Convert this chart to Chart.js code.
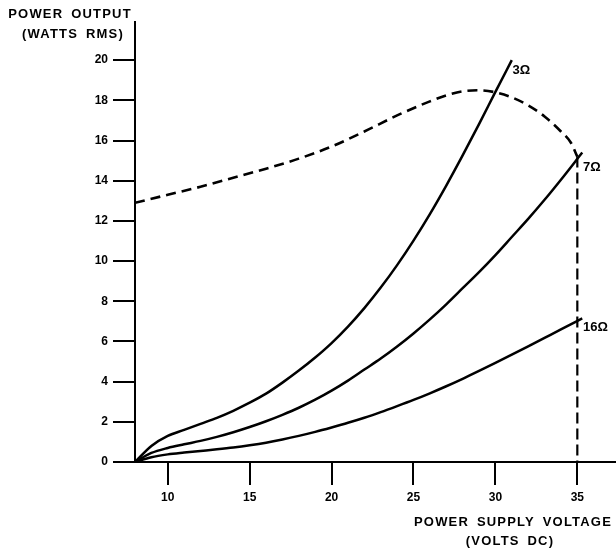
<!DOCTYPE html>
<html><head><meta charset="utf-8">
<script src="https://cdn.jsdelivr.net/npm/chart.js@4"></script>
<style>html,body{margin:0;padding:0;background:#fff;overflow:hidden}canvas{display:block}</style>
</head><body>
<canvas id="c" width="616" height="549"></canvas>
<script>
// ---- data ----
const voltage3  = [8, 9, 10, 11, 12, 13, 14, 15, 16, 17, 18, 19, 20, 21, 22, 23, 24, 25, 26, 27, 28, 29, 30, 31];
const power3    = [0, 0.8, 1.3, 1.6, 1.9, 2.2, 2.55, 2.95, 3.4, 3.95, 4.55, 5.2, 5.92, 6.74, 7.66, 8.68, 9.8, 11.02, 12.34, 13.76, 15.26, 16.82, 18.42, 20.0];
const voltage7  = [8, 9, 10, 11, 12, 13, 14, 15, 16, 17, 18, 19, 20, 21, 22, 23, 24, 25, 26, 27, 28, 29, 30, 31, 32, 33, 34, 35.3];
const power7    = [0, 0.45, 0.7, 0.88, 1.05, 1.25, 1.48, 1.74, 2.03, 2.35, 2.7, 3.1, 3.55, 4.05, 4.6, 5.15, 5.75, 6.4, 7.1, 7.85, 8.65, 9.45, 10.3, 11.2, 12.1, 13.05, 14.05, 15.4];
const voltage16 = [8, 9, 10, 11, 12, 13, 14, 15, 16, 17, 18, 19, 20, 21, 22, 23, 24, 25, 26, 27, 28, 29, 30, 31, 32, 33, 34, 35.3];
const power16   = [0, 0.24, 0.38, 0.47, 0.55, 0.63, 0.72, 0.83, 0.96, 1.12, 1.3, 1.5, 1.72, 1.95, 2.2, 2.48, 2.78, 3.09, 3.42, 3.77, 4.14, 4.53, 4.93, 5.34, 5.76, 6.18, 6.6, 7.15];
const voltageMax = [8, 10, 12, 14, 16, 18, 20, 22, 24, 26, 27, 28, 29, 30, 31, 32, 33, 34, 34.6, 35.0];
const powerMax   = [12.9, 13.3, 13.7, 14.15, 14.6, 15.1, 15.7, 16.45, 17.25, 17.95, 18.25, 18.45, 18.5, 18.4, 18.15, 17.75, 17.2, 16.45, 15.9, 15.2];
const voltageDrop = [35, 35];
const powerDrop   = [15.2, 0];

const xTicks = [10, 15, 20, 25, 30, 35];
const yTicks = [0, 2, 4, 6, 8, 10, 12, 14, 16, 18, 20];
const curveLabels = ['3Ω', '7Ω', '16Ω'];
const labelVoltage = [31.05, 35.35, 35.35];
const labelPower   = [19.5, 14.65, 6.7];
const yTitle = ['POWER OUTPUT', '(WATTS RMS)'];
const xTitle = ['POWER SUPPLY VOLTAGE', '(VOLTS DC)'];

const pts = (xs, ys) => xs.map((x, i) => ({x: x, y: ys[i]}));
const FONT = '"Liberation Sans", Arial, sans-serif';

const solid = (d) => ({data: d, borderColor: '#000', borderWidth: 2.5, pointRadius: 0,
  cubicInterpolationMode: 'monotone', fill: false});

const textPlugin = {
  id: 'texts',
  afterDraw(chart) {
    const ctx = chart.ctx, xs = chart.scales.x, ys = chart.scales.y;
    ctx.save();
    ctx.fillStyle = '#000';
    ctx.textBaseline = 'middle';
    ctx.font = 'bold 13px ' + FONT;
    ctx.textAlign = 'center';
    if ('letterSpacing' in ctx) ctx.letterSpacing = '1.2px';
    if ('wordSpacing' in ctx) ctx.wordSpacing = '3px';
    ctx.fillText(yTitle[0], 70, 14);
    ctx.fillText(yTitle[1], 73, 34);
    ctx.fillText(xTitle[0], 513, 522);
    ctx.fillText(xTitle[1], 510, 541);
    if ('letterSpacing' in ctx) ctx.letterSpacing = '0px';
    if ('wordSpacing' in ctx) ctx.wordSpacing = '0px';
    ctx.font = 'bold 13px ' + FONT;
    ctx.textAlign = 'left';
    curveLabels.forEach((t, i) => {
      ctx.fillText(t, xs.getPixelForValue(labelVoltage[i]), ys.getPixelForValue(labelPower[i]));
    });
    ctx.restore();
  }
};

new Chart(document.getElementById('c'), {
  type: 'line',
  data: {
    datasets: [
      solid(pts(voltage3, power3)),
      solid(pts(voltage7, power7)),
      solid(pts(voltage16, power16)),
      {data: pts(voltageMax, powerMax), borderColor: '#000', borderWidth: 2.6, borderDash: [10, 6],
       pointRadius: 0, cubicInterpolationMode: 'monotone', fill: false},
      {data: pts(voltageDrop, powerDrop), borderColor: '#000', borderWidth: 2.2, borderDash: [11, 5],
       pointRadius: 0, tension: 0, fill: false}
    ]
  },
  options: {
    responsive: false,
    animation: false,
    layout: {padding: {top: 22, right: 1, left: 0, bottom: 0}},
    plugins: {legend: {display: false}, tooltip: {enabled: false}},
    scales: {
      x: {
        type: 'linear', min: 8, max: 37.3,
        afterBuildTicks: s => { s.ticks = xTicks.map(v => ({value: v})); },
        afterFit: s => { s.height = 87; },
        grid: {drawOnChartArea: false, tickLength: 23, color: '#000', lineWidth: 2},
        border: {color: '#000', width: 2},
        ticks: {color: '#000', padding: 5, maxRotation: 0, autoSkip: false,
          font: {family: FONT, weight: 'bold', size: 12}}
      },
      y: {
        type: 'linear', min: 0, max: 21.9,
        afterBuildTicks: s => { s.ticks = yTicks.map(v => ({value: v})); },
        afterFit: s => { s.width = 135; },
        grid: {drawOnChartArea: false, tickLength: 22, color: '#000', lineWidth: 2},
        border: {color: '#000', width: 2},
        ticks: {color: '#000', padding: 5, autoSkip: false,
          font: {family: FONT, weight: 'bold', size: 12}}
      }
    }
  },
  plugins: [textPlugin]
});
</script>
</body></html>
